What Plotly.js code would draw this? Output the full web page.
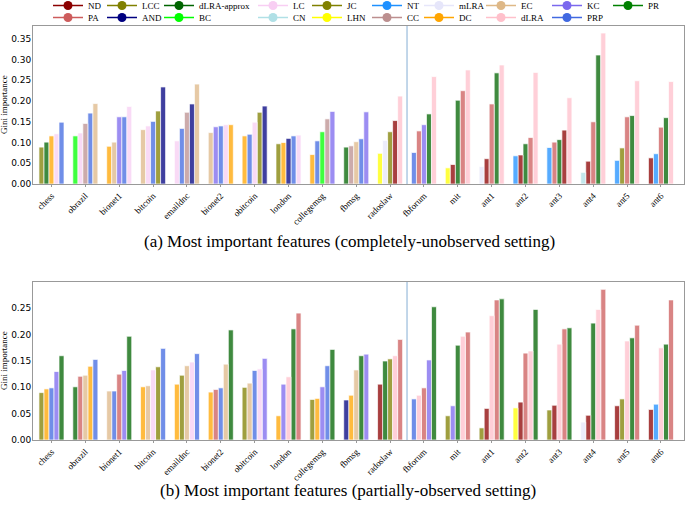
<!DOCTYPE html>
<html>
<head>
<meta charset="utf-8">
<script src="https://cdn.plot.ly/plotly-3.0.1.min.js"></script>
<style>html,body{margin:0;padding:0;background:#fff;}#chart{width:685px;height:508px;}</style>
</head>
<body>
<div id="chart"></div>
<script>
// ---------------- DATA ----------------
const categories = ['chess','obrazil','bionet1','bitcoin','emaildnc','bionet2','obitcoin','london','collegemsg','fbmsg','radoslaw','fbforum','mit','ant1','ant2','ant3','ant4','ant5','ant6'];
const separatorAfter = 'radoslaw';

const legendOrder = ['ND','PA','LCC','AND','dLRA-approx','BC','LC','CN','JC','LHN','NT','CC','mLRA','DC','EC','dLRA','KC','PRP','PR'];

// (a) completely-unobserved setting: top-5 features per network (ascending)
const topFeatures = [
  ['LCC','dLRA-approx','DC','LC','PRP'],
  ['BC','LC','CC','PRP','EC'],
  ['DC','EC','KC','PRP','LC'],
  ['EC','LC','PRP','LCC','AND'],
  ['LC','PRP','CC','AND','EC'],
  ['EC','KC','PRP','LC','DC'],
  ['DC','PRP','LC','LCC','AND'],
  ['LCC','DC','AND','PRP','LC'],
  ['DC','PRP','BC','CC','KC'],
  ['dLRA-approx','CC','EC','PRP','KC'],
  ['LHN','mLRA','LCC','ND','dLRA'],
  ['PRP','PA','KC','dLRA-approx','dLRA'],
  ['LHN','ND','dLRA-approx','PA','dLRA'],
  ['mLRA','ND','PA','dLRA-approx','dLRA'],
  ['NT','ND','dLRA-approx','PA','dLRA'],
  ['NT','PA','dLRA-approx','ND','dLRA'],
  ['CN','ND','PA','dLRA-approx','dLRA'],
  ['NT','LCC','PA','dLRA-approx','dLRA'],
  ['ND','NT','PA','dLRA-approx','dLRA']
];
const topValues = [
  [0.089,0.101,0.116,0.121,0.149],
  [0.116,0.123,0.146,0.171,0.194],
  [0.091,0.101,0.162,0.162,0.187],
  [0.131,0.140,0.151,0.176,0.234],
  [0.104,0.134,0.173,0.193,0.241],
  [0.124,0.138,0.140,0.143,0.143],
  [0.116,0.120,0.149,0.173,0.188],
  [0.097,0.100,0.110,0.116,0.118],
  [0.071,0.104,0.126,0.157,0.175],
  [0.089,0.092,0.102,0.109,0.174],
  [0.074,0.105,0.126,0.153,0.212],
  [0.076,0.128,0.143,0.169,0.259],
  [0.039,0.047,0.202,0.225,0.275],
  [0.042,0.061,0.193,0.268,0.287],
  [0.068,0.070,0.097,0.112,0.269],
  [0.088,0.101,0.107,0.130,0.208],
  [0.028,0.055,0.150,0.311,0.364],
  [0.057,0.087,0.162,0.165,0.249],
  [0.063,0.073,0.137,0.160,0.247]
];

// (b) partially-observed setting
const bottomFeatures = [
  ['LCC','DC','PRP','KC','dLRA-approx'],
  ['dLRA-approx','PA','EC','DC','PRP'],
  ['EC','PRP','PA','KC','dLRA-approx'],
  ['DC','EC','LC','LCC','PRP'],
  ['DC','LCC','EC','LC','PRP'],
  ['DC','PA','PRP','EC','dLRA-approx'],
  ['LCC','EC','PRP','LC','KC'],
  ['DC','KC','dLRA','dLRA-approx','PA'],
  ['LCC','DC','KC','PRP','dLRA-approx'],
  ['AND','DC','EC','dLRA-approx','KC'],
  ['ND','dLRA-approx','LCC','dLRA','PA'],
  ['PRP','dLRA','PA','KC','dLRA-approx'],
  ['LCC','KC','dLRA-approx','dLRA','PA'],
  ['LCC','ND','dLRA','PA','dLRA-approx'],
  ['LHN','ND','PA','dLRA','dLRA-approx'],
  ['LCC','ND','dLRA','PA','dLRA-approx'],
  ['mLRA','ND','dLRA-approx','dLRA','PA'],
  ['ND','LCC','dLRA','dLRA-approx','PA'],
  ['ND','NT','dLRA','dLRA-approx','PA']
];
const bottomValues = [
  [0.090,0.097,0.099,0.130,0.160],
  [0.101,0.121,0.123,0.140,0.153],
  [0.093,0.093,0.125,0.132,0.197],
  [0.101,0.103,0.133,0.139,0.174],
  [0.106,0.123,0.141,0.148,0.164],
  [0.091,0.096,0.099,0.144,0.209],
  [0.100,0.108,0.132,0.135,0.155],
  [0.046,0.106,0.120,0.211,0.241],
  [0.077,0.079,0.101,0.141,0.172],
  [0.076,0.085,0.133,0.160,0.163],
  [0.106,0.150,0.154,0.160,0.191],
  [0.078,0.085,0.099,0.152,0.253],
  [0.046,0.065,0.180,0.197,0.205],
  [0.023,0.060,0.236,0.266,0.268],
  [0.061,0.072,0.165,0.169,0.248],
  [0.057,0.066,0.182,0.211,0.213],
  [0.034,0.047,0.222,0.248,0.286],
  [0.065,0.078,0.188,0.194,0.218],
  [0.058,0.068,0.175,0.182,0.266]
];

const titleA = '(a) Most important features (completely-unobserved setting)';
const titleB = '(b) Most important features (partially-observed setting)';
const yTitle = 'Gini importance';

// ---------------- STYLE ----------------
const featureColors = {
  'ND':'#8B0000','PA':'#CD5C5C','LCC':'#808000','AND':'#000080','dLRA-approx':'#006400',
  'BC':'#00FF00','LC':'#F8CEF3','CN':'#B0E0E6','JC':'#808000','LHN':'#FFFF00',
  'NT':'#1E90FF','CC':'#BC8F8F','mLRA':'#E6E6FA','DC':'#FFA500','EC':'#DEB887',
  'dLRA':'#FFC0CB','KC':'#7B68EE','PRP':'#4169E1','PR':'#008000'
};
const serif = 'Liberation Serif, Times New Roman, serif';
const sans = 'DejaVu Sans, sans-serif';
const W = 685, H = 508;
const mL = 33, mR = 1, mT = 26, mB = 68;
const plotW = W - mL - mR, plotH = H - mT - mB;
const barW = 0.148;
const px2paperX = px => (px - mL) / plotW;
const px2paperY = py => 1 - (py - mT) / plotH;

// ---------------- BUILD ----------------
const traces = [];
function addPanel(feats, vals, xa, ya) {
  const groups = {};
  feats.forEach((row, i) => {
    const n = row.length;
    row.forEach((f, k) => {
      if (!groups[f]) groups[f] = {x: [], y: []};
      groups[f].x.push(i + (k - (n - 1) / 2) * barW);
      groups[f].y.push(vals[i][k]);
    });
  });
  Object.keys(groups).forEach(f => {
    traces.push({
      type: 'bar', x: groups[f].x, y: groups[f].y, width: barW,
      xaxis: xa, yaxis: ya, name: f, showlegend: false, opacity: 0.75,
      marker: {color: featureColors[f], line: {color: '#ffffff', width: 0.7}},
      hoverinfo: 'x+y+name'
    });
  });
}
addPanel(topFeatures, topValues, 'x', 'y');
addPanel(bottomFeatures, bottomValues, 'x2', 'y2');

// legend: column-major, 2 rows, one small legend per entry
const legendTextX = [86, 140, 197, 291, 345, 405, 457, 519, 585, 646];
const legendRowY = [5.5, 17.5];
const layoutLegends = {};
legendOrder.forEach((f, idx) => {
  const col = Math.floor(idx / 2), row = idx % 2;
  const key = idx === 0 ? 'legend' : 'legend' + (idx + 1);
  traces.push({
    type: 'scatter', mode: 'lines+markers', x: [null], y: [null],
    xaxis: 'x', yaxis: 'y', name: f, legend: key, showlegend: true,
    line: {color: featureColors[f], width: 1.5},
    marker: {color: featureColors[f], size: 9}
  });
  layoutLegends[key] = {
    xref: 'paper', yref: 'paper', orientation: 'h',
    x: px2paperX(legendTextX[col] - 38), y: px2paperY(legendRowY[row]),
    xanchor: 'left', yanchor: 'middle',
    bgcolor: 'rgba(0,0,0,0)', borderwidth: 0,
    font: {family: serif, size: 9, color: '#000'},
    itemclick: false, itemdoubleclick: false
  };
});

const tickIdx = categories.map((c, i) => i);
const sepX = categories.indexOf(separatorAfter) + 0.5;
const xRange = [-0.546, categories.length - 1 + 0.68];

function xAxis(anchor) {
  return {
    anchor: anchor, domain: [0, 1], range: xRange, tickmode: 'array',
    tickvals: tickIdx, ticktext: categories, tickangle: -45,
    tickfont: {family: serif, size: 9, color: '#000'},
    showgrid: false, zeroline: false, showline: true, mirror: true,
    linecolor: '#999999', linewidth: 1, ticks: 'outside', ticklen: 2, tickcolor: '#999999'
  };
}
function yAxis(anchor, domain, range, tickvals) {
  return {
    anchor: anchor, domain: domain, range: range, tickmode: 'array', tickvals: tickvals,
    tickformat: '.2f', tickfont: {family: sans, size: 9, color: '#000'},
    ticklabelstandoff: -1,
    showgrid: false, zeroline: false, showline: true, mirror: true,
    linecolor: '#999999', linewidth: 1, ticks: ''
  };
}

const topDomain = [(440 - 184) / plotH, 1];
const botDomain = [0, 158 / plotH];

const layout = Object.assign({
  width: W, height: H,
  margin: {l: mL, r: mR, t: mT, b: mB, autoexpand: false},
  paper_bgcolor: '#fff', plot_bgcolor: '#fff',
  barmode: 'overlay', bargap: 0, showlegend: true,
  xaxis: xAxis('y'),
  yaxis: yAxis('x', topDomain, [0, 0.381], [0,0.05,0.10,0.15,0.20,0.25,0.30,0.35]),
  xaxis2: xAxis('y2'),
  yaxis2: yAxis('x2', botDomain, [0, 0.30], [0,0.05,0.10,0.15,0.20,0.25]),
  shapes: [
    {type: 'line', xref: 'x', yref: 'y domain', x0: sepX, x1: sepX, y0: 0, y1: 1, line: {color: '#86aed4', width: 1}},
    {type: 'line', xref: 'x2', yref: 'y2 domain', x0: sepX, x1: sepX, y0: 0, y1: 1, line: {color: '#86aed4', width: 1}}
  ],
  annotations: [
    {xref: 'paper', yref: 'paper', x: px2paperX(349), y: px2paperY(241), xanchor: 'center', yanchor: 'middle',
     text: titleA, showarrow: false, font: {family: serif, size: 17, color: '#000'}},
    {xref: 'paper', yref: 'paper', x: px2paperX(348), y: px2paperY(490), xanchor: 'center', yanchor: 'middle',
     text: titleB, showarrow: false, font: {family: serif, size: 17, color: '#000'}},
    {xref: 'paper', yref: 'paper', x: px2paperX(4), y: (topDomain[0] + topDomain[1]) / 2, xanchor: 'center', yanchor: 'middle',
     textangle: -90, text: yTitle, showarrow: false, font: {family: serif, size: 9, color: '#000'}},
    {xref: 'paper', yref: 'paper', x: px2paperX(4), y: (botDomain[0] + botDomain[1]) / 2, xanchor: 'center', yanchor: 'middle',
     textangle: -90, text: yTitle, showarrow: false, font: {family: serif, size: 9, color: '#000'}}
  ]
}, layoutLegends);

Plotly.newPlot('chart', traces, layout, {displayModeBar: false, staticPlot: true});
</script>
</body>
</html>
